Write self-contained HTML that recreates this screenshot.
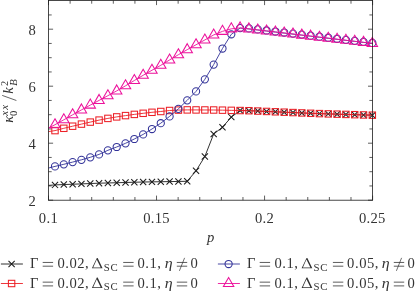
<!DOCTYPE html><html><head><meta charset="utf-8"><style>html,body{margin:0;padding:0;background:#fff;overflow:hidden}svg{display:block;will-change:transform}</style></head><body><svg width="415" height="291" viewBox="0 0 415 291">
<rect width="415" height="291" fill="#fff"/>
<path d="M48.50 200.20 v-4.60 M48.50 0.50 v4.60 M70.11 200.20 v-3.20 M70.11 0.50 v3.20 M91.71 200.20 v-3.20 M91.71 0.50 v3.20 M113.32 200.20 v-3.20 M113.32 0.50 v3.20 M134.93 200.20 v-3.20 M134.93 0.50 v3.20 M156.53 200.20 v-4.60 M156.53 0.50 v4.60 M178.14 200.20 v-3.20 M178.14 0.50 v3.20 M199.75 200.20 v-3.20 M199.75 0.50 v3.20 M221.35 200.20 v-3.20 M221.35 0.50 v3.20 M242.96 200.20 v-3.20 M242.96 0.50 v3.20 M264.57 200.20 v-4.60 M264.57 0.50 v4.60 M286.17 200.20 v-3.20 M286.17 0.50 v3.20 M307.78 200.20 v-3.20 M307.78 0.50 v3.20 M329.39 200.20 v-3.20 M329.39 0.50 v3.20 M350.99 200.20 v-3.20 M350.99 0.50 v3.20 M372.60 200.20 v-4.60 M372.60 0.50 v4.60 M48.50 200.20 h4.60 M372.60 200.20 h-4.60 M48.50 185.95 h3.20 M372.60 185.95 h-3.20 M48.50 171.70 h3.20 M372.60 171.70 h-3.20 M48.50 157.45 h3.20 M372.60 157.45 h-3.20 M48.50 143.20 h4.60 M372.60 143.20 h-4.60 M48.50 128.95 h3.20 M372.60 128.95 h-3.20 M48.50 114.70 h3.20 M372.60 114.70 h-3.20 M48.50 100.45 h3.20 M372.60 100.45 h-3.20 M48.50 86.20 h4.60 M372.60 86.20 h-4.60 M48.50 71.95 h3.20 M372.60 71.95 h-3.20 M48.50 57.70 h3.20 M372.60 57.70 h-3.20 M48.50 43.45 h3.20 M372.60 43.45 h-3.20 M48.50 29.20 h4.60 M372.60 29.20 h-4.60 M48.50 14.95 h3.20 M372.60 14.95 h-3.20" stroke="#2a2a2a" stroke-width="0.75" fill="none"/>
<clipPath id="c"><rect x="48.50" y="-10" width="344.10" height="210.20"/></clipPath>
<path d="M48.50 185.40 L55.00 184.90 L63.81 184.56 L72.63 184.22 L81.44 183.88 L90.26 183.54 L99.07 183.20 L107.89 182.96 L116.70 182.72 L125.52 182.48 L134.33 182.24 L143.15 182.00 L151.96 181.86 L160.78 181.72 L169.59 181.58 L178.41 181.44 L187.22 181.30 L196.04 170.80 L204.85 156.50 L213.67 134.00 L222.48 127.20 L231.30 117.10 L240.11 110.50 L248.93 110.70 L257.75 111.07 L266.56 111.44 L275.38 111.81 L284.19 112.19 L293.00 112.56 L301.82 112.93 L310.63 113.30 L319.45 113.60 L328.26 113.90 L337.08 114.16 L345.89 114.42 L354.71 114.68 L363.52 114.94 L372.34 115.20" fill="none" stroke="#1c1c1c" stroke-width="0.9"/>
<path d="M51.90 181.80 l6.20 6.20 m-6.20 0 l6.20 -6.20" stroke="#1c1c1c" stroke-width="1.05" fill="none"/>
<path d="M60.71 181.46 l6.20 6.20 m-6.20 0 l6.20 -6.20" stroke="#1c1c1c" stroke-width="1.05" fill="none"/>
<path d="M69.53 181.12 l6.20 6.20 m-6.20 0 l6.20 -6.20" stroke="#1c1c1c" stroke-width="1.05" fill="none"/>
<path d="M78.34 180.78 l6.20 6.20 m-6.20 0 l6.20 -6.20" stroke="#1c1c1c" stroke-width="1.05" fill="none"/>
<path d="M87.16 180.44 l6.20 6.20 m-6.20 0 l6.20 -6.20" stroke="#1c1c1c" stroke-width="1.05" fill="none"/>
<path d="M95.97 180.10 l6.20 6.20 m-6.20 0 l6.20 -6.20" stroke="#1c1c1c" stroke-width="1.05" fill="none"/>
<path d="M104.79 179.86 l6.20 6.20 m-6.20 0 l6.20 -6.20" stroke="#1c1c1c" stroke-width="1.05" fill="none"/>
<path d="M113.61 179.62 l6.20 6.20 m-6.20 0 l6.20 -6.20" stroke="#1c1c1c" stroke-width="1.05" fill="none"/>
<path d="M122.42 179.38 l6.20 6.20 m-6.20 0 l6.20 -6.20" stroke="#1c1c1c" stroke-width="1.05" fill="none"/>
<path d="M131.23 179.14 l6.20 6.20 m-6.20 0 l6.20 -6.20" stroke="#1c1c1c" stroke-width="1.05" fill="none"/>
<path d="M140.05 178.90 l6.20 6.20 m-6.20 0 l6.20 -6.20" stroke="#1c1c1c" stroke-width="1.05" fill="none"/>
<path d="M148.86 178.76 l6.20 6.20 m-6.20 0 l6.20 -6.20" stroke="#1c1c1c" stroke-width="1.05" fill="none"/>
<path d="M157.68 178.62 l6.20 6.20 m-6.20 0 l6.20 -6.20" stroke="#1c1c1c" stroke-width="1.05" fill="none"/>
<path d="M166.50 178.48 l6.20 6.20 m-6.20 0 l6.20 -6.20" stroke="#1c1c1c" stroke-width="1.05" fill="none"/>
<path d="M175.31 178.34 l6.20 6.20 m-6.20 0 l6.20 -6.20" stroke="#1c1c1c" stroke-width="1.05" fill="none"/>
<path d="M184.12 178.20 l6.20 6.20 m-6.20 0 l6.20 -6.20" stroke="#1c1c1c" stroke-width="1.05" fill="none"/>
<path d="M192.94 167.70 l6.20 6.20 m-6.20 0 l6.20 -6.20" stroke="#1c1c1c" stroke-width="1.05" fill="none"/>
<path d="M201.75 153.40 l6.20 6.20 m-6.20 0 l6.20 -6.20" stroke="#1c1c1c" stroke-width="1.05" fill="none"/>
<path d="M210.57 130.90 l6.20 6.20 m-6.20 0 l6.20 -6.20" stroke="#1c1c1c" stroke-width="1.05" fill="none"/>
<path d="M219.38 124.10 l6.20 6.20 m-6.20 0 l6.20 -6.20" stroke="#1c1c1c" stroke-width="1.05" fill="none"/>
<path d="M228.20 114.00 l6.20 6.20 m-6.20 0 l6.20 -6.20" stroke="#1c1c1c" stroke-width="1.05" fill="none"/>
<path d="M237.01 107.40 l6.20 6.20 m-6.20 0 l6.20 -6.20" stroke="#1c1c1c" stroke-width="1.05" fill="none"/>
<path d="M245.83 107.60 l6.20 6.20 m-6.20 0 l6.20 -6.20" stroke="#1c1c1c" stroke-width="1.05" fill="none"/>
<path d="M254.65 107.97 l6.20 6.20 m-6.20 0 l6.20 -6.20" stroke="#1c1c1c" stroke-width="1.05" fill="none"/>
<path d="M263.46 108.34 l6.20 6.20 m-6.20 0 l6.20 -6.20" stroke="#1c1c1c" stroke-width="1.05" fill="none"/>
<path d="M272.27 108.71 l6.20 6.20 m-6.20 0 l6.20 -6.20" stroke="#1c1c1c" stroke-width="1.05" fill="none"/>
<path d="M281.09 109.09 l6.20 6.20 m-6.20 0 l6.20 -6.20" stroke="#1c1c1c" stroke-width="1.05" fill="none"/>
<path d="M289.90 109.46 l6.20 6.20 m-6.20 0 l6.20 -6.20" stroke="#1c1c1c" stroke-width="1.05" fill="none"/>
<path d="M298.72 109.83 l6.20 6.20 m-6.20 0 l6.20 -6.20" stroke="#1c1c1c" stroke-width="1.05" fill="none"/>
<path d="M307.53 110.20 l6.20 6.20 m-6.20 0 l6.20 -6.20" stroke="#1c1c1c" stroke-width="1.05" fill="none"/>
<path d="M316.35 110.50 l6.20 6.20 m-6.20 0 l6.20 -6.20" stroke="#1c1c1c" stroke-width="1.05" fill="none"/>
<path d="M325.16 110.80 l6.20 6.20 m-6.20 0 l6.20 -6.20" stroke="#1c1c1c" stroke-width="1.05" fill="none"/>
<path d="M333.98 111.06 l6.20 6.20 m-6.20 0 l6.20 -6.20" stroke="#1c1c1c" stroke-width="1.05" fill="none"/>
<path d="M342.79 111.32 l6.20 6.20 m-6.20 0 l6.20 -6.20" stroke="#1c1c1c" stroke-width="1.05" fill="none"/>
<path d="M351.61 111.58 l6.20 6.20 m-6.20 0 l6.20 -6.20" stroke="#1c1c1c" stroke-width="1.05" fill="none"/>
<path d="M360.42 111.84 l6.20 6.20 m-6.20 0 l6.20 -6.20" stroke="#1c1c1c" stroke-width="1.05" fill="none"/>
<path d="M369.24 112.10 l6.20 6.20 m-6.20 0 l6.20 -6.20" stroke="#1c1c1c" stroke-width="1.05" fill="none"/>
<path d="M48.50 131.60 L55.00 130.60 L63.81 128.30 L72.63 126.20 L81.44 124.10 L90.26 122.10 L99.07 120.10 L107.89 118.40 L116.70 116.90 L125.52 115.60 L134.33 114.40 L143.15 113.30 L151.96 112.30 L160.78 111.50 L169.59 110.50 L178.41 110.10 L187.22 109.90 L196.04 109.93 L204.85 109.97 L213.67 110.00 L222.48 110.17 L231.30 110.35 L240.11 110.53 L248.93 110.70 L257.75 111.07 L266.56 111.44 L275.38 111.81 L284.19 112.19 L293.00 112.56 L301.82 112.93 L310.63 113.30 L319.45 113.60 L328.26 113.90 L337.08 114.16 L345.89 114.42 L354.71 114.68 L363.52 114.94 L372.34 115.20" fill="none" stroke="#ec2027" stroke-width="0.9"/>
<rect x="51.80" y="127.40" width="6.40" height="6.40" stroke="#ec2027" stroke-width="1.05" fill="none"/>
<rect x="60.61" y="125.10" width="6.40" height="6.40" stroke="#ec2027" stroke-width="1.05" fill="none"/>
<rect x="69.43" y="123.00" width="6.40" height="6.40" stroke="#ec2027" stroke-width="1.05" fill="none"/>
<rect x="78.24" y="120.90" width="6.40" height="6.40" stroke="#ec2027" stroke-width="1.05" fill="none"/>
<rect x="87.06" y="118.90" width="6.40" height="6.40" stroke="#ec2027" stroke-width="1.05" fill="none"/>
<rect x="95.87" y="116.90" width="6.40" height="6.40" stroke="#ec2027" stroke-width="1.05" fill="none"/>
<rect x="104.69" y="115.20" width="6.40" height="6.40" stroke="#ec2027" stroke-width="1.05" fill="none"/>
<rect x="113.50" y="113.70" width="6.40" height="6.40" stroke="#ec2027" stroke-width="1.05" fill="none"/>
<rect x="122.32" y="112.40" width="6.40" height="6.40" stroke="#ec2027" stroke-width="1.05" fill="none"/>
<rect x="131.13" y="111.20" width="6.40" height="6.40" stroke="#ec2027" stroke-width="1.05" fill="none"/>
<rect x="139.95" y="110.10" width="6.40" height="6.40" stroke="#ec2027" stroke-width="1.05" fill="none"/>
<rect x="148.76" y="109.10" width="6.40" height="6.40" stroke="#ec2027" stroke-width="1.05" fill="none"/>
<rect x="157.58" y="108.30" width="6.40" height="6.40" stroke="#ec2027" stroke-width="1.05" fill="none"/>
<rect x="166.40" y="107.30" width="6.40" height="6.40" stroke="#ec2027" stroke-width="1.05" fill="none"/>
<rect x="175.21" y="106.90" width="6.40" height="6.40" stroke="#ec2027" stroke-width="1.05" fill="none"/>
<rect x="184.03" y="106.70" width="6.40" height="6.40" stroke="#ec2027" stroke-width="1.05" fill="none"/>
<rect x="192.84" y="106.73" width="6.40" height="6.40" stroke="#ec2027" stroke-width="1.05" fill="none"/>
<rect x="201.66" y="106.77" width="6.40" height="6.40" stroke="#ec2027" stroke-width="1.05" fill="none"/>
<rect x="210.47" y="106.80" width="6.40" height="6.40" stroke="#ec2027" stroke-width="1.05" fill="none"/>
<rect x="219.28" y="106.97" width="6.40" height="6.40" stroke="#ec2027" stroke-width="1.05" fill="none"/>
<rect x="228.10" y="107.15" width="6.40" height="6.40" stroke="#ec2027" stroke-width="1.05" fill="none"/>
<rect x="236.91" y="107.33" width="6.40" height="6.40" stroke="#ec2027" stroke-width="1.05" fill="none"/>
<rect x="245.73" y="107.50" width="6.40" height="6.40" stroke="#ec2027" stroke-width="1.05" fill="none"/>
<rect x="254.55" y="107.87" width="6.40" height="6.40" stroke="#ec2027" stroke-width="1.05" fill="none"/>
<rect x="263.36" y="108.24" width="6.40" height="6.40" stroke="#ec2027" stroke-width="1.05" fill="none"/>
<rect x="272.18" y="108.61" width="6.40" height="6.40" stroke="#ec2027" stroke-width="1.05" fill="none"/>
<rect x="280.99" y="108.99" width="6.40" height="6.40" stroke="#ec2027" stroke-width="1.05" fill="none"/>
<rect x="289.81" y="109.36" width="6.40" height="6.40" stroke="#ec2027" stroke-width="1.05" fill="none"/>
<rect x="298.62" y="109.73" width="6.40" height="6.40" stroke="#ec2027" stroke-width="1.05" fill="none"/>
<rect x="307.44" y="110.10" width="6.40" height="6.40" stroke="#ec2027" stroke-width="1.05" fill="none"/>
<rect x="316.25" y="110.40" width="6.40" height="6.40" stroke="#ec2027" stroke-width="1.05" fill="none"/>
<rect x="325.06" y="110.70" width="6.40" height="6.40" stroke="#ec2027" stroke-width="1.05" fill="none"/>
<rect x="333.88" y="110.96" width="6.40" height="6.40" stroke="#ec2027" stroke-width="1.05" fill="none"/>
<rect x="342.69" y="111.22" width="6.40" height="6.40" stroke="#ec2027" stroke-width="1.05" fill="none"/>
<rect x="351.51" y="111.48" width="6.40" height="6.40" stroke="#ec2027" stroke-width="1.05" fill="none"/>
<rect x="360.32" y="111.74" width="6.40" height="6.40" stroke="#ec2027" stroke-width="1.05" fill="none"/>
<rect x="369.14" y="112.00" width="6.40" height="6.40" stroke="#ec2027" stroke-width="1.05" fill="none"/>
<path d="M48.50 168.00 L55.00 166.40 L63.81 164.30 L72.63 162.10 L81.44 159.80 L90.26 157.30 L99.07 154.40 L107.89 150.30 L116.70 147.00 L125.52 143.30 L134.33 139.00 L143.15 134.40 L151.96 129.00 L160.78 123.20 L169.59 116.40 L178.41 108.80 L187.22 100.30 L196.04 91.40 L204.85 79.30 L213.67 64.60 L222.48 48.50 L231.30 34.30 L240.11 28.10 L248.93 28.90 L257.75 29.94 L266.56 30.97 L275.38 32.01 L284.19 33.04 L293.00 34.08 L301.82 35.12 L310.63 36.15 L319.45 37.19 L328.26 38.22 L337.08 39.26 L345.89 40.30 L354.71 41.33 L363.52 42.37 L372.34 43.40" fill="none" stroke="#333399" stroke-width="0.9"/>
<circle cx="55.00" cy="166.40" r="3.6" stroke="#333399" stroke-width="1.05" fill="none"/>
<circle cx="63.81" cy="164.30" r="3.6" stroke="#333399" stroke-width="1.05" fill="none"/>
<circle cx="72.63" cy="162.10" r="3.6" stroke="#333399" stroke-width="1.05" fill="none"/>
<circle cx="81.44" cy="159.80" r="3.6" stroke="#333399" stroke-width="1.05" fill="none"/>
<circle cx="90.26" cy="157.30" r="3.6" stroke="#333399" stroke-width="1.05" fill="none"/>
<circle cx="99.07" cy="154.40" r="3.6" stroke="#333399" stroke-width="1.05" fill="none"/>
<circle cx="107.89" cy="150.30" r="3.6" stroke="#333399" stroke-width="1.05" fill="none"/>
<circle cx="116.70" cy="147.00" r="3.6" stroke="#333399" stroke-width="1.05" fill="none"/>
<circle cx="125.52" cy="143.30" r="3.6" stroke="#333399" stroke-width="1.05" fill="none"/>
<circle cx="134.33" cy="139.00" r="3.6" stroke="#333399" stroke-width="1.05" fill="none"/>
<circle cx="143.15" cy="134.40" r="3.6" stroke="#333399" stroke-width="1.05" fill="none"/>
<circle cx="151.96" cy="129.00" r="3.6" stroke="#333399" stroke-width="1.05" fill="none"/>
<circle cx="160.78" cy="123.20" r="3.6" stroke="#333399" stroke-width="1.05" fill="none"/>
<circle cx="169.59" cy="116.40" r="3.6" stroke="#333399" stroke-width="1.05" fill="none"/>
<circle cx="178.41" cy="108.80" r="3.6" stroke="#333399" stroke-width="1.05" fill="none"/>
<circle cx="187.22" cy="100.30" r="3.6" stroke="#333399" stroke-width="1.05" fill="none"/>
<circle cx="196.04" cy="91.40" r="3.6" stroke="#333399" stroke-width="1.05" fill="none"/>
<circle cx="204.85" cy="79.30" r="3.6" stroke="#333399" stroke-width="1.05" fill="none"/>
<circle cx="213.67" cy="64.60" r="3.6" stroke="#333399" stroke-width="1.05" fill="none"/>
<circle cx="222.48" cy="48.50" r="3.6" stroke="#333399" stroke-width="1.05" fill="none"/>
<circle cx="231.30" cy="34.30" r="3.6" stroke="#333399" stroke-width="1.05" fill="none"/>
<circle cx="240.11" cy="28.10" r="3.6" stroke="#333399" stroke-width="1.05" fill="none"/>
<circle cx="248.93" cy="28.40" r="3.6" stroke="#333399" stroke-width="1.05" fill="none"/>
<circle cx="257.75" cy="29.44" r="3.6" stroke="#333399" stroke-width="1.05" fill="none"/>
<circle cx="266.56" cy="30.47" r="3.6" stroke="#333399" stroke-width="1.05" fill="none"/>
<circle cx="275.38" cy="31.51" r="3.6" stroke="#333399" stroke-width="1.05" fill="none"/>
<circle cx="284.19" cy="32.54" r="3.6" stroke="#333399" stroke-width="1.05" fill="none"/>
<circle cx="293.00" cy="33.58" r="3.6" stroke="#333399" stroke-width="1.05" fill="none"/>
<circle cx="301.82" cy="34.62" r="3.6" stroke="#333399" stroke-width="1.05" fill="none"/>
<circle cx="310.63" cy="35.65" r="3.6" stroke="#333399" stroke-width="1.05" fill="none"/>
<circle cx="319.45" cy="36.69" r="3.6" stroke="#333399" stroke-width="1.05" fill="none"/>
<circle cx="328.26" cy="37.72" r="3.6" stroke="#333399" stroke-width="1.05" fill="none"/>
<circle cx="337.08" cy="38.76" r="3.6" stroke="#333399" stroke-width="1.05" fill="none"/>
<circle cx="345.89" cy="39.80" r="3.6" stroke="#333399" stroke-width="1.05" fill="none"/>
<circle cx="354.71" cy="40.83" r="3.6" stroke="#333399" stroke-width="1.05" fill="none"/>
<circle cx="363.52" cy="41.87" r="3.6" stroke="#333399" stroke-width="1.05" fill="none"/>
<circle cx="372.34" cy="42.90" r="3.6" stroke="#333399" stroke-width="1.05" fill="none"/>
<path d="M48.50 128.00 L55.00 124.70 L63.81 119.80 L72.63 114.80 L81.44 109.90 L90.26 105.10 L99.07 100.40 L107.89 95.70 L116.70 90.90 L125.52 85.80 L134.33 80.50 L143.15 75.30 L151.96 70.25 L160.78 65.30 L169.59 59.95 L178.41 54.70 L187.22 49.65 L196.04 44.75 L204.85 39.95 L213.67 34.95 L222.48 31.35 L231.30 28.85 L240.11 27.90 L248.93 28.90 L257.75 29.94 L266.56 30.97 L275.38 32.01 L284.19 33.04 L293.00 34.08 L301.82 35.12 L310.63 36.15 L319.45 37.19 L328.26 38.22 L337.08 39.26 L345.89 40.30 L354.71 41.33 L363.52 42.37 L372.34 43.40" fill="none" stroke="#ec119b" stroke-width="0.9"/>
<path d="M55.00 118.70 L60.20 127.70 L49.80 127.70 Z" stroke="#ec119b" stroke-width="1.05" fill="none"/>
<path d="M63.81 113.80 L69.01 122.80 L58.62 122.80 Z" stroke="#ec119b" stroke-width="1.05" fill="none"/>
<path d="M72.63 108.80 L77.83 117.80 L67.43 117.80 Z" stroke="#ec119b" stroke-width="1.05" fill="none"/>
<path d="M81.44 103.90 L86.64 112.90 L76.25 112.90 Z" stroke="#ec119b" stroke-width="1.05" fill="none"/>
<path d="M90.26 99.10 L95.46 108.10 L85.06 108.10 Z" stroke="#ec119b" stroke-width="1.05" fill="none"/>
<path d="M99.07 94.40 L104.27 103.40 L93.88 103.40 Z" stroke="#ec119b" stroke-width="1.05" fill="none"/>
<path d="M107.89 89.70 L113.09 98.70 L102.69 98.70 Z" stroke="#ec119b" stroke-width="1.05" fill="none"/>
<path d="M116.70 84.90 L121.90 93.90 L111.51 93.90 Z" stroke="#ec119b" stroke-width="1.05" fill="none"/>
<path d="M125.52 79.80 L130.72 88.80 L120.32 88.80 Z" stroke="#ec119b" stroke-width="1.05" fill="none"/>
<path d="M134.33 74.50 L139.53 83.50 L129.14 83.50 Z" stroke="#ec119b" stroke-width="1.05" fill="none"/>
<path d="M143.15 69.30 L148.35 78.30 L137.95 78.30 Z" stroke="#ec119b" stroke-width="1.05" fill="none"/>
<path d="M151.96 64.25 L157.16 73.25 L146.77 73.25 Z" stroke="#ec119b" stroke-width="1.05" fill="none"/>
<path d="M160.78 59.30 L165.98 68.30 L155.58 68.30 Z" stroke="#ec119b" stroke-width="1.05" fill="none"/>
<path d="M169.59 53.95 L174.79 62.95 L164.40 62.95 Z" stroke="#ec119b" stroke-width="1.05" fill="none"/>
<path d="M178.41 48.70 L183.61 57.70 L173.21 57.70 Z" stroke="#ec119b" stroke-width="1.05" fill="none"/>
<path d="M187.22 43.65 L192.42 52.65 L182.03 52.65 Z" stroke="#ec119b" stroke-width="1.05" fill="none"/>
<path d="M196.04 38.75 L201.24 47.75 L190.84 47.75 Z" stroke="#ec119b" stroke-width="1.05" fill="none"/>
<path d="M204.85 33.95 L210.05 42.95 L199.66 42.95 Z" stroke="#ec119b" stroke-width="1.05" fill="none"/>
<path d="M213.67 28.95 L218.87 37.95 L208.47 37.95 Z" stroke="#ec119b" stroke-width="1.05" fill="none"/>
<path d="M222.48 25.35 L227.68 34.35 L217.29 34.35 Z" stroke="#ec119b" stroke-width="1.05" fill="none"/>
<path d="M231.30 22.85 L236.50 31.85 L226.10 31.85 Z" stroke="#ec119b" stroke-width="1.05" fill="none"/>
<path d="M240.11 21.90 L245.31 30.90 L234.92 30.90 Z" stroke="#ec119b" stroke-width="1.05" fill="none"/>
<path d="M248.93 22.90 L254.13 31.90 L243.73 31.90 Z" stroke="#ec119b" stroke-width="1.05" fill="none"/>
<path d="M257.75 23.94 L262.94 32.94 L252.55 32.94 Z" stroke="#ec119b" stroke-width="1.05" fill="none"/>
<path d="M266.56 24.97 L271.76 33.97 L261.36 33.97 Z" stroke="#ec119b" stroke-width="1.05" fill="none"/>
<path d="M275.38 26.01 L280.57 35.01 L270.18 35.01 Z" stroke="#ec119b" stroke-width="1.05" fill="none"/>
<path d="M284.19 27.04 L289.39 36.04 L278.99 36.04 Z" stroke="#ec119b" stroke-width="1.05" fill="none"/>
<path d="M293.00 28.08 L298.20 37.08 L287.81 37.08 Z" stroke="#ec119b" stroke-width="1.05" fill="none"/>
<path d="M301.82 29.12 L307.02 38.12 L296.62 38.12 Z" stroke="#ec119b" stroke-width="1.05" fill="none"/>
<path d="M310.63 30.15 L315.83 39.15 L305.44 39.15 Z" stroke="#ec119b" stroke-width="1.05" fill="none"/>
<path d="M319.45 31.19 L324.65 40.19 L314.25 40.19 Z" stroke="#ec119b" stroke-width="1.05" fill="none"/>
<path d="M328.26 32.22 L333.46 41.22 L323.07 41.22 Z" stroke="#ec119b" stroke-width="1.05" fill="none"/>
<path d="M337.08 33.26 L342.28 42.26 L331.88 42.26 Z" stroke="#ec119b" stroke-width="1.05" fill="none"/>
<path d="M345.89 34.30 L351.09 43.30 L340.70 43.30 Z" stroke="#ec119b" stroke-width="1.05" fill="none"/>
<path d="M354.71 35.33 L359.91 44.33 L349.51 44.33 Z" stroke="#ec119b" stroke-width="1.05" fill="none"/>
<path d="M363.52 36.37 L368.72 45.37 L358.33 45.37 Z" stroke="#ec119b" stroke-width="1.05" fill="none"/>
<path d="M372.34 37.40 L377.54 46.40 L367.14 46.40 Z" stroke="#ec119b" stroke-width="1.05" fill="none"/>
<rect x="48.50" y="0.50" width="324.10" height="199.70" fill="none" stroke="#1c1c1c" stroke-width="0.8"/>
<text x="35.9" y="34.60" text-anchor="end" style="font-family:'Liberation Serif',serif;font-size:14.6px;fill:#333">8</text>
<text x="35.9" y="91.60" text-anchor="end" style="font-family:'Liberation Serif',serif;font-size:14.6px;fill:#333">6</text>
<text x="35.9" y="148.60" text-anchor="end" style="font-family:'Liberation Serif',serif;font-size:14.6px;fill:#333">4</text>
<text x="35.9" y="205.60" text-anchor="end" style="font-family:'Liberation Serif',serif;font-size:14.6px;fill:#333">2</text>
<text x="48.45" y="223" text-anchor="middle" style="font-family:'Liberation Serif',serif;font-size:14.6px;fill:#333;letter-spacing:0.3px">0.1</text>
<text x="156.55" y="223" text-anchor="middle" style="font-family:'Liberation Serif',serif;font-size:14.6px;fill:#333;letter-spacing:0.3px">0.15</text>
<text x="264.55" y="223" text-anchor="middle" style="font-family:'Liberation Serif',serif;font-size:14.6px;fill:#333;letter-spacing:0.3px">0.2</text>
<text x="372.35" y="223" text-anchor="middle" style="font-family:'Liberation Serif',serif;font-size:14.6px;fill:#333;letter-spacing:0.3px">0.25</text>
<text x="207.0" y="242.1" style="font-family:'Liberation Serif',serif;font-size:14.6px;fill:#333;font-style:italic">p</text>
<g transform="translate(13.1,122.7) rotate(-90)"><text x="0" y="0" style="font-family:'Liberation Serif',serif;font-size:14.6px;fill:#333;font-style:italic">κ</text><text x="6.7" y="3.9" style="font-family:'Liberation Serif',serif;font-size:14.6px;fill:#333;font-size:10.6px">0</text><text x="6.9" y="-4.8" style="font-family:'Liberation Serif',serif;font-size:14.6px;fill:#333;font-size:11px;letter-spacing:1.2px;font-style:italic">xx</text><path d="M22.2 3.3 L27.3 -10.9" stroke="#333" stroke-width="0.75" fill="none"/><text x="29.0" y="0" style="font-family:'Liberation Serif',serif;font-size:14.6px;fill:#333;font-style:italic">k</text><text x="36.8" y="3.9" style="font-family:'Liberation Serif',serif;font-size:14.6px;fill:#333;font-size:11.2px;font-style:italic">B</text><text x="36.6" y="-4.8" style="font-family:'Liberation Serif',serif;font-size:14.6px;fill:#333;font-size:10.2px">2</text></g>
<path d="M0.90 264.00 h22" stroke="#1c1c1c" stroke-width="0.9"/><path d="M8.50 260.90 l6.20 6.20 m-6.20 0 l6.20 -6.20" stroke="#1c1c1c" stroke-width="1.05" fill="none"/><text x="30.00" y="268.20" style="font-family:'Liberation Serif',serif;font-size:14.6px;fill:#333">Γ</text><path d="M42.70 262.45 h10.4 M42.70 266.20 h10.4" stroke="#333" stroke-width="0.8" fill="none"/><text x="57.50" y="268.20" style="font-family:'Liberation Serif',serif;font-size:14.6px;fill:#333;letter-spacing:0.5px">0.02,</text><path fill-rule="evenodd" d="M91.90 268.20 l4.95 -10.3 h0.8 l4.95 10.3 Z M93.20 267.45 l3.55 -7.9 l3.95 7.9 Z" fill="#333"/><text x="103.70" y="270.60" style="font-family:'Liberation Serif',serif;font-size:14.6px;fill:#333;font-size:10.8px;letter-spacing:0.9px">SC</text><path d="M123.20 262.45 h10.4 M123.20 266.20 h10.4" stroke="#333" stroke-width="0.8" fill="none"/><text x="137.40" y="268.20" style="font-family:'Liberation Serif',serif;font-size:14.6px;fill:#333;letter-spacing:0.55px">0.1,</text><text x="164.80" y="268.20" textLength="7.9" lengthAdjust="spacingAndGlyphs" style="font-family:'Liberation Serif',serif;font-size:14.6px;fill:#333;font-style:italic">η</text><path d="M176.80 262.45 h10.4 M176.80 266.20 h10.4" stroke="#333" stroke-width="0.8" fill="none"/><path d="M179.40 270.85 l5.2 -13" stroke="#333" stroke-width="0.7" fill="none"/><text x="190.40" y="268.20" style="font-family:'Liberation Serif',serif;font-size:14.6px;fill:#333">0</text>
<path d="M0.90 283.50 h22" stroke="#ec2027" stroke-width="0.9"/><rect x="8.40" y="280.30" width="6.40" height="6.40" stroke="#ec2027" stroke-width="1.05" fill="none"/><text x="30.00" y="287.90" style="font-family:'Liberation Serif',serif;font-size:14.6px;fill:#333">Γ</text><path d="M42.70 282.15 h10.4 M42.70 285.90 h10.4" stroke="#333" stroke-width="0.8" fill="none"/><text x="57.50" y="287.90" style="font-family:'Liberation Serif',serif;font-size:14.6px;fill:#333;letter-spacing:0.5px">0.02,</text><path fill-rule="evenodd" d="M91.90 287.90 l4.95 -10.3 h0.8 l4.95 10.3 Z M93.20 287.15 l3.55 -7.9 l3.95 7.9 Z" fill="#333"/><text x="103.70" y="290.30" style="font-family:'Liberation Serif',serif;font-size:14.6px;fill:#333;font-size:10.8px;letter-spacing:0.9px">SC</text><path d="M123.20 282.15 h10.4 M123.20 285.90 h10.4" stroke="#333" stroke-width="0.8" fill="none"/><text x="137.40" y="287.90" style="font-family:'Liberation Serif',serif;font-size:14.6px;fill:#333;letter-spacing:0.55px">0.1,</text><text x="164.80" y="287.90" textLength="7.9" lengthAdjust="spacingAndGlyphs" style="font-family:'Liberation Serif',serif;font-size:14.6px;fill:#333;font-style:italic">η</text><path d="M176.80 282.15 h10.4 M176.80 285.90 h10.4" stroke="#333" stroke-width="0.8" fill="none"/><text x="190.40" y="287.90" style="font-family:'Liberation Serif',serif;font-size:14.6px;fill:#333">0</text>
<path d="M217.90 264.00 h22" stroke="#333399" stroke-width="0.9"/><circle cx="228.60" cy="264.00" r="3.6" stroke="#333399" stroke-width="1.05" fill="none"/><text x="247.00" y="268.20" style="font-family:'Liberation Serif',serif;font-size:14.6px;fill:#333">Γ</text><path d="M259.70 262.45 h10.4 M259.70 266.20 h10.4" stroke="#333" stroke-width="0.8" fill="none"/><text x="274.50" y="268.20" style="font-family:'Liberation Serif',serif;font-size:14.6px;fill:#333;letter-spacing:0.5px">0.1,</text><path fill-rule="evenodd" d="M301.60 268.20 l4.95 -10.3 h0.8 l4.95 10.3 Z M302.90 267.45 l3.55 -7.9 l3.95 7.9 Z" fill="#333"/><text x="313.40" y="270.60" style="font-family:'Liberation Serif',serif;font-size:14.6px;fill:#333;font-size:10.8px;letter-spacing:0.9px">SC</text><path d="M332.90 262.45 h10.4 M332.90 266.20 h10.4" stroke="#333" stroke-width="0.8" fill="none"/><text x="347.10" y="268.20" style="font-family:'Liberation Serif',serif;font-size:14.6px;fill:#333;letter-spacing:0.55px">0.05,</text><text x="381.80" y="268.20" textLength="7.9" lengthAdjust="spacingAndGlyphs" style="font-family:'Liberation Serif',serif;font-size:14.6px;fill:#333;font-style:italic">η</text><path d="M393.80 262.45 h10.4 M393.80 266.20 h10.4" stroke="#333" stroke-width="0.8" fill="none"/><path d="M396.40 270.85 l5.2 -13" stroke="#333" stroke-width="0.7" fill="none"/><text x="407.40" y="268.20" style="font-family:'Liberation Serif',serif;font-size:14.6px;fill:#333">0</text>
<path d="M217.90 283.50 h22" stroke="#ec119b" stroke-width="0.9"/><path d="M228.60 277.50 L233.80 286.50 L223.40 286.50 Z" stroke="#ec119b" stroke-width="1.05" fill="none"/><text x="247.00" y="287.90" style="font-family:'Liberation Serif',serif;font-size:14.6px;fill:#333">Γ</text><path d="M259.70 282.15 h10.4 M259.70 285.90 h10.4" stroke="#333" stroke-width="0.8" fill="none"/><text x="274.50" y="287.90" style="font-family:'Liberation Serif',serif;font-size:14.6px;fill:#333;letter-spacing:0.5px">0.1,</text><path fill-rule="evenodd" d="M301.60 287.90 l4.95 -10.3 h0.8 l4.95 10.3 Z M302.90 287.15 l3.55 -7.9 l3.95 7.9 Z" fill="#333"/><text x="313.40" y="290.30" style="font-family:'Liberation Serif',serif;font-size:14.6px;fill:#333;font-size:10.8px;letter-spacing:0.9px">SC</text><path d="M332.90 282.15 h10.4 M332.90 285.90 h10.4" stroke="#333" stroke-width="0.8" fill="none"/><text x="347.10" y="287.90" style="font-family:'Liberation Serif',serif;font-size:14.6px;fill:#333;letter-spacing:0.55px">0.05,</text><text x="381.80" y="287.90" textLength="7.9" lengthAdjust="spacingAndGlyphs" style="font-family:'Liberation Serif',serif;font-size:14.6px;fill:#333;font-style:italic">η</text><path d="M393.80 282.15 h10.4 M393.80 285.90 h10.4" stroke="#333" stroke-width="0.8" fill="none"/><text x="407.40" y="287.90" style="font-family:'Liberation Serif',serif;font-size:14.6px;fill:#333">0</text>
</svg></body></html>
